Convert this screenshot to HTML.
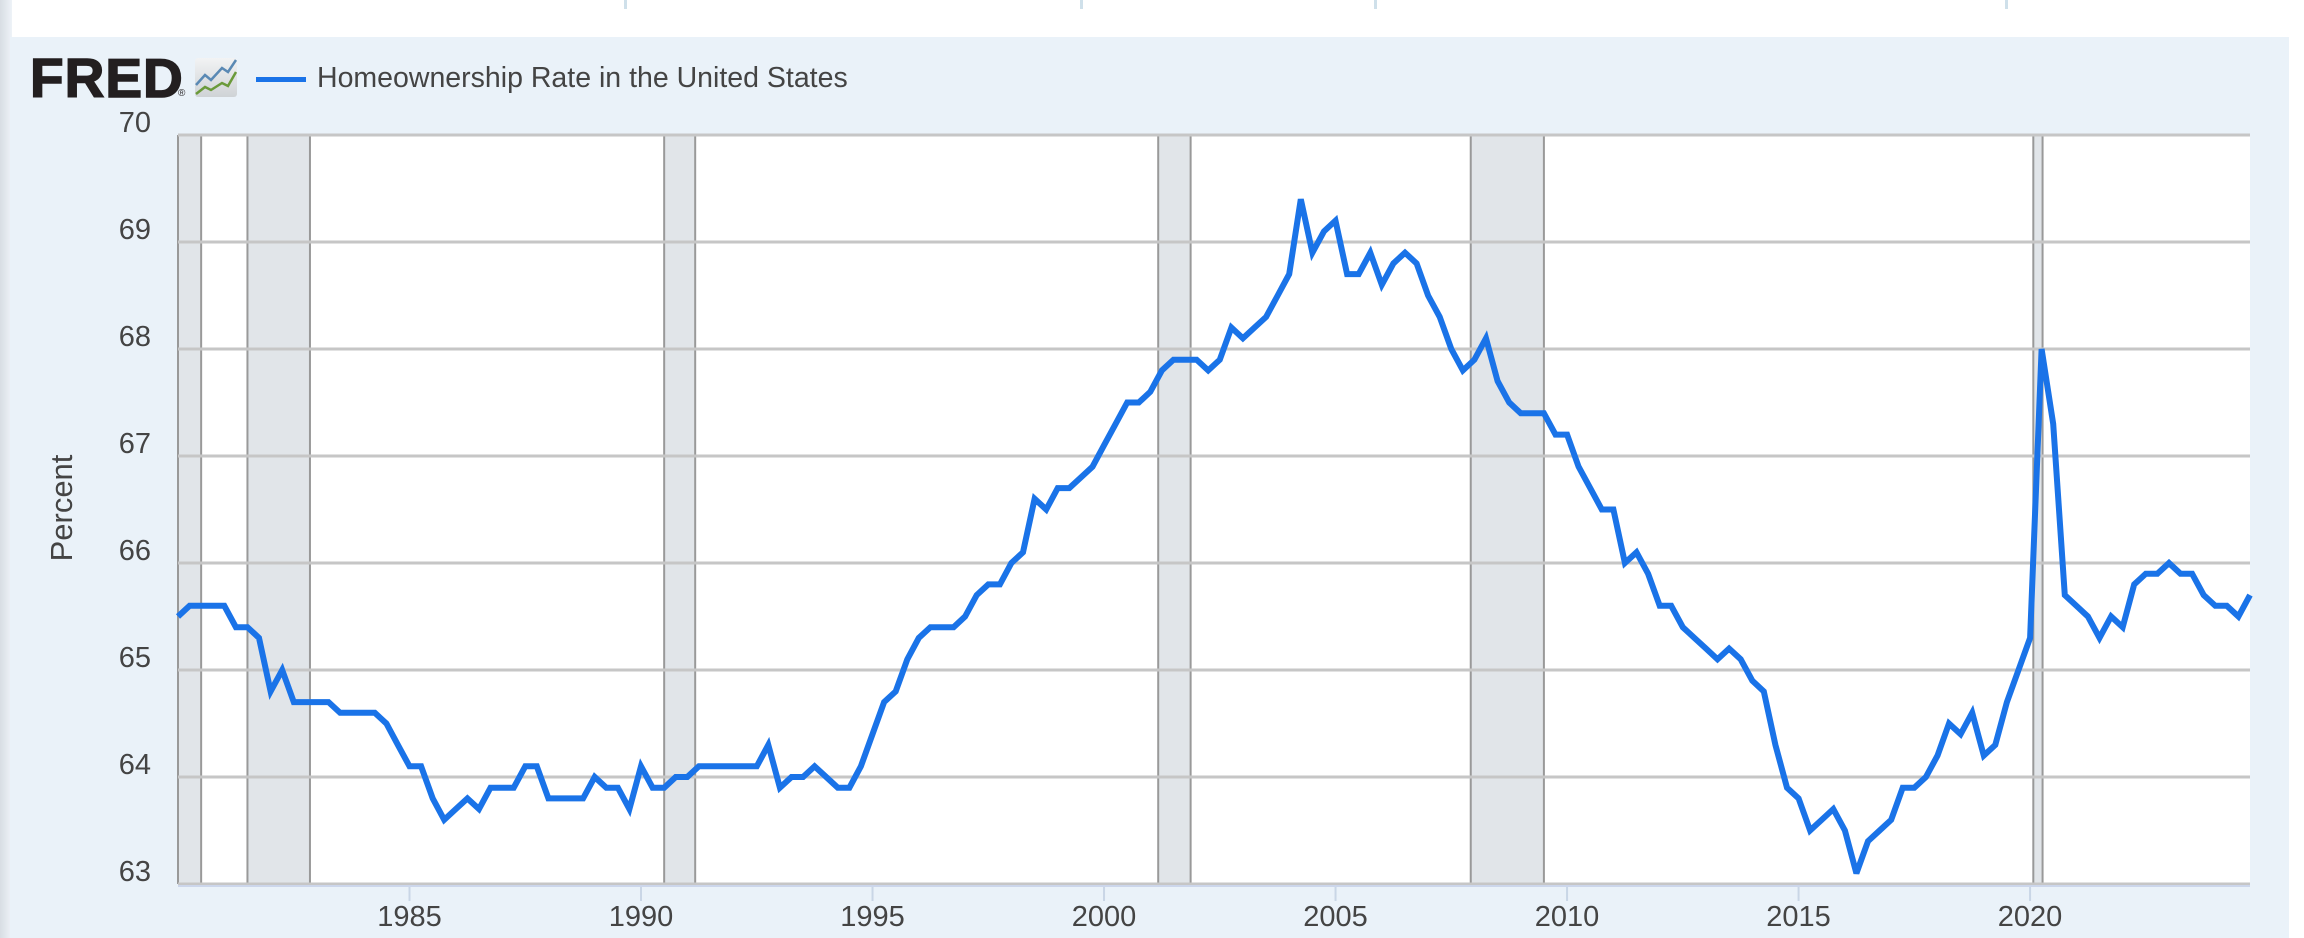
<!DOCTYPE html>
<html><head><meta charset="utf-8"><style>
html,body{margin:0;padding:0;background:#fff;width:2304px;height:938px;overflow:hidden}
svg{display:block}
text{font-family:"Liberation Sans",sans-serif}
</style></head><body>
<svg id="s" width="2304" height="938" viewBox="0 0 2304 938" xmlns="http://www.w3.org/2000/svg">
<defs><linearGradient id="lg" x1="0" x2="1" y1="0" y2="0"><stop offset="0" stop-color="#d8dde3"/><stop offset="1" stop-color="#eef3f8"/></linearGradient>
<linearGradient id="ic" x1="0" x2="0" y1="0" y2="1"><stop offset="0" stop-color="#f2f3f4"/><stop offset="1" stop-color="#cfd3d6"/></linearGradient></defs>
<rect x="0" y="0" width="2304" height="938" fill="#fff"/>
<rect x="0" y="0" width="12" height="938" fill="url(#lg)"/>
<rect x="624" y="0" width="3" height="9" fill="#cfe0ea"/>
<rect x="1080" y="0" width="3" height="9" fill="#cfe0ea"/>
<rect x="1374" y="0" width="3" height="9" fill="#cfe0ea"/>
<rect x="2005" y="0" width="3" height="9" fill="#cfe0ea"/>
<rect x="10" y="37" width="2279" height="901" fill="#eaf2f9"/>
<text x="30" y="97" font-weight="bold" font-size="55" fill="#231f20" stroke="#231f20" stroke-width="1.5" letter-spacing="1">FRED</text>
<text x="178" y="96" font-size="10" fill="#231f20">®</text>
<rect x="195" y="58" width="42" height="39" rx="3" fill="url(#ic)"/>
<polyline points="196,85 205,75 211,80 222,68 228,72 236,60" fill="none" stroke="#5a89b4" stroke-width="2.5"/>
<polyline points="196,94 205,87 211,90 222,83 228,86 236,72" fill="none" stroke="#6a9a3a" stroke-width="2.5"/>
<rect x="256" y="77" width="50" height="5" fill="#1a73e8"/>
<text x="317" y="87" font-size="28.5" fill="#444">Homeownership Rate in the United States</text>
<g id="plot"></g>
</svg>
<script>
var L=178,R=2250,T=135,B=884,X0=1980,X1=2024.75;
function X(t){return L+(t-X0)/(X1-X0)*(R-L)}
function Y(v){return B-(v-63)/7*(B-T)}
var g='';
g+='<rect x="'+L+'" y="'+T+'" width="'+(R-L)+'" height="'+(B-T)+'" fill="#fff"/>';
var rec=[[1980.0,1980.5],[1981.5,1982.85],[1990.5,1991.17],[2001.17,2001.87],[2007.92,2009.5],[2020.07,2020.27]];
rec.forEach(function(r){var a=X(r[0]),b=X(r[1]);g+='<rect x="'+a+'" y="'+T+'" width="'+(b-a)+'" height="'+(B-T)+'" fill="#e1e5e9"/>';
g+='<line x1="'+a+'" x2="'+a+'" y1="'+T+'" y2="'+B+'" stroke="#999" stroke-width="2"/><line x1="'+b+'" x2="'+b+'" y1="'+T+'" y2="'+B+'" stroke="#999" stroke-width="2"/>';});
for(var v=63;v<=70;v++){var y=Y(v);g+='<line x1="'+L+'" x2="'+R+'" y1="'+y+'" y2="'+y+'" stroke="#c6c6c6" stroke-width="3"/>';
g+='<text x="151" y="'+(y-3)+'" font-size="29" fill="#444" text-anchor="end">'+v+'</text>';}
for(var yr=1985;yr<=2020;yr+=5){var x=X(yr);g+='<line x1="'+x+'" x2="'+x+'" y1="'+(B+3)+'" y2="'+(B+17)+'" stroke="#c9d6e6" stroke-width="2"/>';
g+='<text x="'+x+'" y="926" font-size="29" fill="#444" text-anchor="middle">'+yr+'</text>';}
g+='<text transform="translate(72,508) rotate(-90)" font-size="31" fill="#444" text-anchor="middle">Percent</text>';
var d=[65.5,65.6,65.6,65.6, 65.6,65.4,65.4,65.3, 64.8,65.0,64.7,64.7, 64.7,64.7,64.6,64.6, 64.6,64.6,64.5,64.3,
64.1,64.1,63.8,63.6, 63.7,63.8,63.7,63.9, 63.9,63.9,64.1,64.1, 63.8,63.8,63.8,63.8, 64.0,63.9,63.9,63.7,
64.1,63.9,63.9,64.0, 64.0,64.1,64.1,64.1, 64.1,64.1,64.1, 64.3,63.9,64.0,64.0, 64.1,64.0,63.9,63.9,
64.1,64.4,64.7,64.8, 65.1,65.3,65.4,65.4, 65.4,65.5,65.7,65.8, 65.8,66.0,66.1,66.6, 66.5,66.7,66.7,66.8,
66.9,67.1,67.3,67.5, 67.5,67.6,67.8,67.9, 67.9,67.9,67.8,67.9, 68.2,68.1,68.2,68.3, 68.5,68.7,69.4,68.9,
69.1,69.2,68.7,68.7, 68.9,68.6,68.8,68.9, 68.8,68.5,68.3,68.0, 67.8,67.9,68.1,67.7, 67.5,67.4,67.4,67.4,
67.2,67.2,66.9,66.7, 66.5,66.5,66.0,66.1, 65.9,65.6,65.6,65.4, 65.3,65.2,65.1,65.2, 65.1,64.9,64.8,64.3,63.9,
63.8,63.5,63.6,63.7, 63.5,63.1,63.4,63.5, 63.6,63.9,63.9,64.0, 64.2,64.5,64.4,64.6, 64.2,64.3,64.7,65.0,
65.3,68.0,67.3,65.7, 65.6,65.5,65.3,65.5, 65.4,65.8,65.9,65.9, 66.0,65.9,65.9,65.7, 65.6,65.6,65.5,65.7];
var n=d.length,pts=[];
for(var i=0;i<n;i++){var t=X0+(i)*(2024.75-X0)/(n-1);pts.push(X(t).toFixed(1)+','+Y(d[i]).toFixed(1));}
g+='<polyline points="'+pts.join(' ')+'" fill="none" stroke="#1a73e8" stroke-width="6" stroke-linejoin="miter" stroke-miterlimit="3"/>';
g+='<line x1="'+L+'" x2="'+R+'" y1="'+(B+2)+'" y2="'+(B+2)+'" stroke="#ccd6eb" stroke-width="2"/>';
document.getElementById('plot').innerHTML=g;
</script>
</body></html>
